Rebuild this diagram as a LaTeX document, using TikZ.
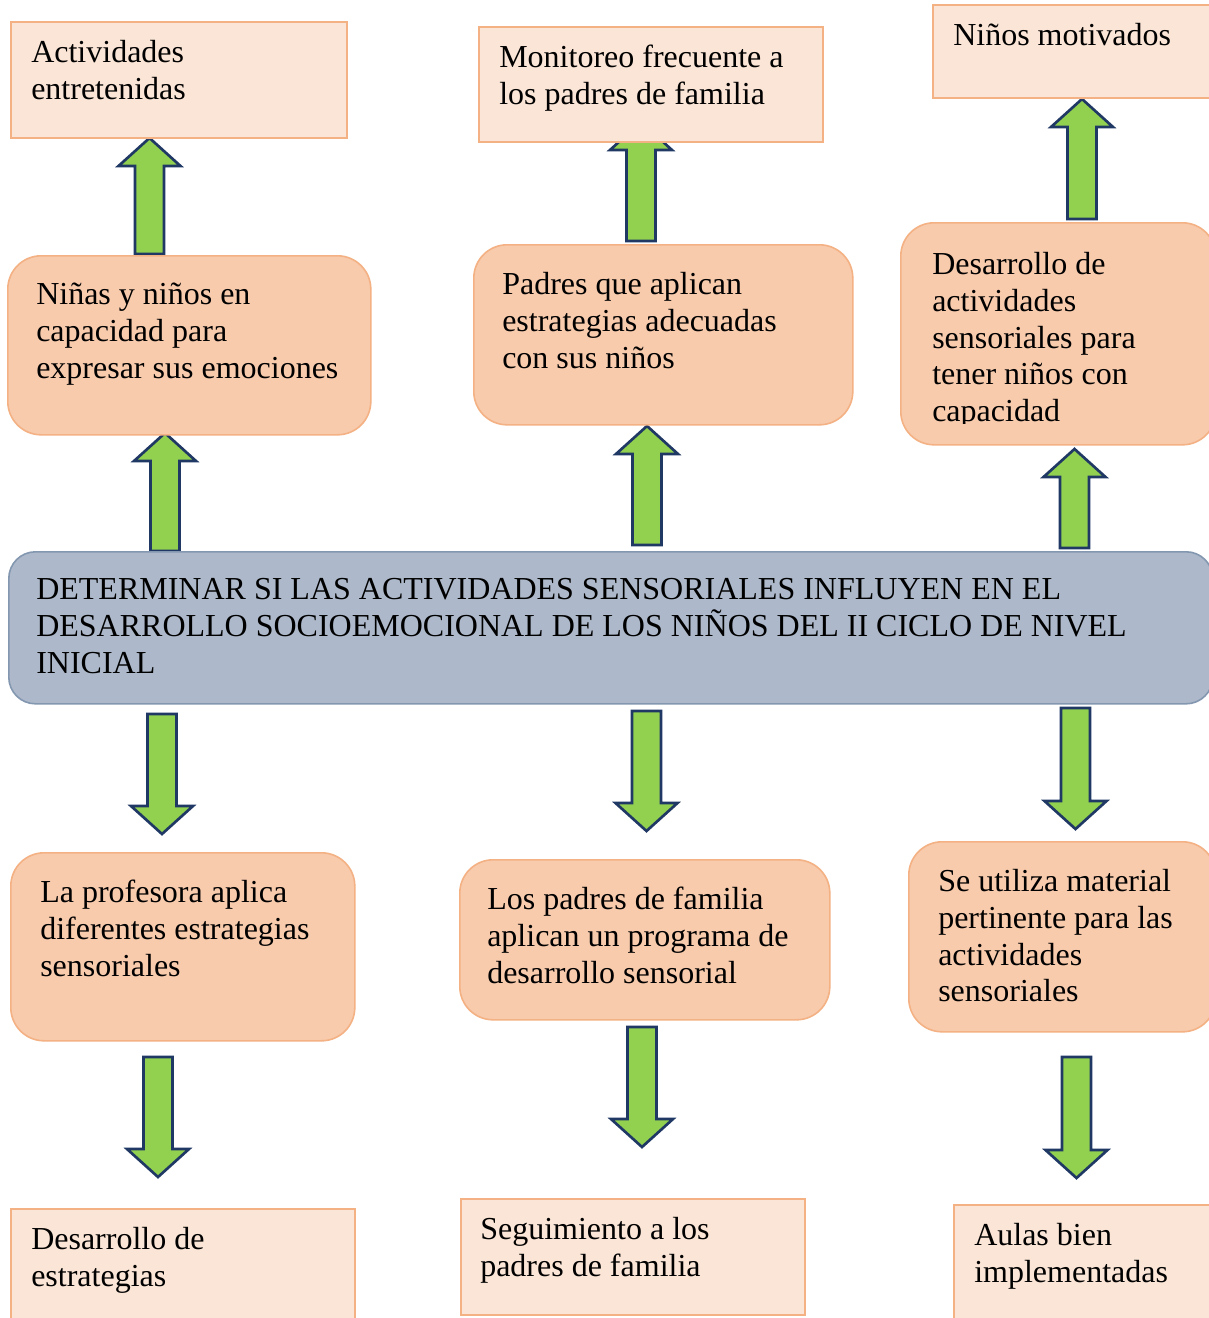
\documentclass[tikz,border=0pt]{standalone}
\usepackage{fontspec}
\setmainfont{Liberation Serif}
\usetikzlibrary{calc,backgrounds}
\definecolor{lightfill}{HTML}{FBE5D6}
\definecolor{peach}{HTML}{F8CBAD}
\definecolor{peachline}{HTML}{F4B183}
\definecolor{bluefill}{HTML}{ADB9CA}
\definecolor{blueline}{HTML}{8497B0}
\definecolor{arrowfill}{HTML}{92D050}
\definecolor{arrowline}{HTML}{1F3864}
\newcommand\upx{0.75pt}
\newcommand\blockarr[2]{%
  \path[blockarrow] let \p1=(#1), \p2=(#2), \n1={sign(\y2-\y1)} in
  ({\x1-10.9pt},\y1) -- ({\x1-10.9pt},{\y2-\n1*21pt}) -- ({\x1-23.25pt},{\y2-\n1*21pt})
  -- (\x1,\y2) -- ({\x1+23.25pt},{\y2-\n1*21pt}) -- ({\x1+10.9pt},{\y2-\n1*21pt})
  -- ({\x1+10.9pt},\y1) -- cycle;}
\tikzset{
  x=0.75pt, y=-0.75pt,
  plainbox/.style={draw=peachline, fill=lightfill, line width=1.2pt, inner sep=0pt, anchor=north west},
  roundbox/.style={draw=peachline, fill=peach, line width=1.2pt, rounded corners=25pt, inner sep=0pt, anchor=north west},
  mainbox/.style={draw=blueline, fill=bluefill, line width=1.2pt, rounded corners=20pt, inner sep=0pt, anchor=north west},
  txt/.style={anchor=north west, inner sep=0pt, align=left, font=\fontsize{24pt}{27.6pt}\selectfont},
  blockarrow/.style={draw=arrowline, fill=arrowfill, line width=2pt, line join=miter},
}
\begin{document}
\begin{tikzpicture}
\useasboundingbox (0,0) rectangle (1209,1318);
\clip (0,0) rectangle (1209,1318);
% top row
\node[plainbox, minimum width=336*\upx, minimum height=116*\upx] (A1) at (10,21) {};
\node[txt] (A1t) at ($(A1.north west)+(21,19)$) {Actividades\\entretenidas};
\node[plainbox, minimum width=344*\upx, minimum height=115*\upx] (A2) at (478,26) {};
\node[txt] (A2t) at ($(A2.north west)+(21,19)$) {Monitoreo frecuente a\\los padres de familia};
\node[plainbox, minimum width=290*\upx, minimum height=93*\upx] (A3) at (932,4) {};
\node[txt] (A3t) at ($(A3.north west)+(21,19)$) {Niños motivados};
% second row
\node[roundbox, minimum width=363*\upx, minimum height=179*\upx] (B1) at (7,255) {};
\node[txt] (B1t) at ($(B1.north west)+(29,28)$) {Niñas y niños en\\capacidad para\\expresar sus emociones};
\node[roundbox, minimum width=379*\upx, minimum height=180*\upx] (B2) at (473,244) {};
\node[txt] (B2t) at ($(B2.north west)+(29,28)$) {Padres que aplican\\estrategias adecuadas\\con sus niños};
\node[roundbox, minimum width=315*\upx, minimum height=222*\upx] (B3) at (900,222) {};
\begin{scope}
\clip (900,222) rectangle (1209,423);
\node[txt] (B3t) at ($(B3.north west)+(32,30)$) {Desarrollo de\\actividades\\sensoriales para\\tener niños con\\capacidad};
\end{scope}
% main
\node[mainbox, minimum width=1204*\upx, minimum height=152*\upx] (M) at (8,551) {};
\node[txt] (Mt) at ($(M.north west)+(28,27)$) {DETERMINAR SI LAS ACTIVIDADES SENSORIALES INFLUYEN EN EL\\DESARROLLO SOCIOEMOCIONAL DE LOS NIÑOS DEL II CICLO DE NIVEL\\INICIAL};
% fourth row
\node[roundbox, minimum width=344*\upx, minimum height=188*\upx] (C1) at (10,852) {};
\node[txt] (C1t) at ($(C1.north west)+(30,28)$) {La profesora aplica\\diferentes estrategias\\sensoriales};
\node[roundbox, minimum width=370*\upx, minimum height=160*\upx] (C2) at (459,859) {};
\node[txt] (C2t) at ($(C2.north west)+(28,28)$) {Los padres de familia\\aplican un programa de\\desarrollo sensorial};
\node[roundbox, minimum width=307*\upx, minimum height=190*\upx] (C3) at (908,841) {};
\node[txt] (C3t) at ($(C3.north west)+(30,28)$) {Se utiliza material\\pertinente para las\\actividades\\sensoriales};
% bottom row
\node[plainbox, minimum width=344*\upx, minimum height=120*\upx] (D1) at (10,1208) {};
\node[txt] (D1t) at ($(D1.north west)+(21,19)$) {Desarrollo de\\estrategias};
\node[plainbox, minimum width=344*\upx, minimum height=116*\upx] (D2) at (460,1198) {};
\node[txt] (D2t) at ($(D2.north west)+(20,19)$) {Seguimiento a los\\padres de familia};
\node[plainbox, minimum width=270*\upx, minimum height=124*\upx] (D3) at (953,1204) {};
\node[txt] (D3t) at ($(D3.north west)+(21,19)$) {Aulas bien\\implementadas};
% arrow end points
\coordinate (u1s) at (149.5,254);  \coordinate (u1e) at (149.5,138);
\coordinate (u2s) at (641,241);    \coordinate (u2e) at (641,122);
\coordinate (u3s) at (1082,219);   \coordinate (u3e) at (1082,99);
\coordinate (u4s) at (165,551);    \coordinate (u4e) at (165,433);
\coordinate (u5s) at (647,545);    \coordinate (u5e) at (647,426);
\coordinate (u6s) at (1074.5,548); \coordinate (u6e) at (1074.5,449);
\coordinate (d1s) at (162,714);    \coordinate (d1e) at (162,834);
\coordinate (d2s) at (646.5,711);  \coordinate (d2e) at (646.5,831);
\coordinate (d3s) at (1075.5,708); \coordinate (d3e) at (1075.5,829);
\coordinate (d4s) at (158,1057);   \coordinate (d4e) at (158,1177);
\coordinate (d5s) at (642,1027);   \coordinate (d5e) at (642,1147);
\coordinate (d6s) at (1076.5,1057);\coordinate (d6e) at (1076.5,1178);
\begin{scope}[on background layer]
\fill[white] (0,0) rectangle (1209,1318);
\blockarr{u1s}{u1e}
\blockarr{u2s}{u2e}
\blockarr{u3s}{u3e}
\blockarr{u4s}{u4e}
\blockarr{u5s}{u5e}
\blockarr{u6s}{u6e}
\blockarr{d1s}{d1e}
\blockarr{d2s}{d2e}
\blockarr{d3s}{d3e}
\blockarr{d4s}{d4e}
\blockarr{d5s}{d5e}
\blockarr{d6s}{d6e}
\end{scope}
\end{tikzpicture}
\end{document}
